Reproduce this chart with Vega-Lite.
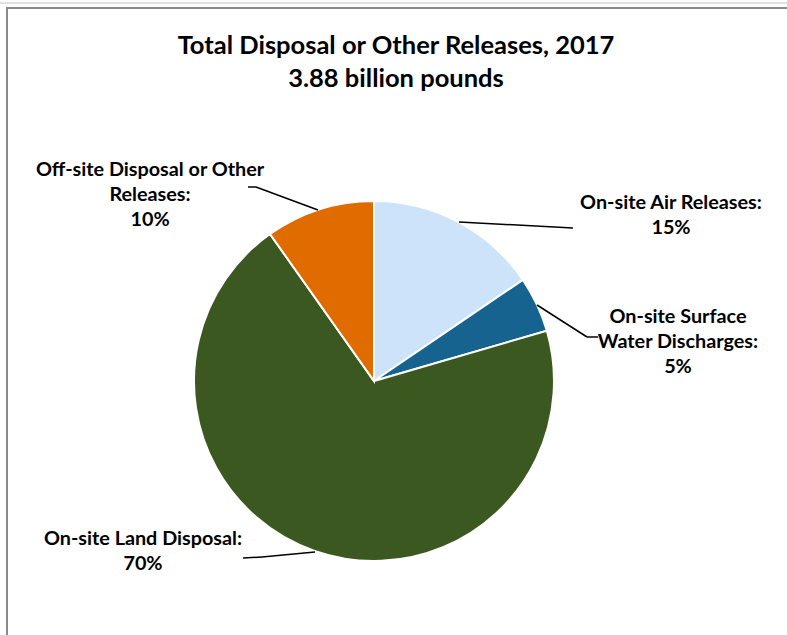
{
  "$schema": "https://vega.github.io/schema/vega-lite/v6.json",
  "width": 782,
  "height": 680,
  "autosize": {"type": "none"},
  "padding": {"left": 7, "top": 8, "right": 0, "bottom": 0},
  "background": "white",
  "title": {
    "text": ["Total Disposal or Other Releases, 2017", "3.88 billion pounds"],
    "font": "Lato",
    "fontSize": 25.5,
    "fontWeight": "bold",
    "color": "#000000",
    "lineHeight": 33,
    "anchor": "middle",
    "frame": "group",
    "baseline": "top",
    "offset": -90,
    "dx": -2
  },
  "config": {
    "view": {"stroke": "#8a8a8a", "strokeWidth": 2},
    "text": {"font": "Lato", "fontSize": 19.8, "fontWeight": "bold", "color": "#000000", "lineBreak": "\n", "lineHeight": 25, "align": "center", "baseline": "middle"}
  },
  "data": {
    "values": [
      {"category": "On-site Air Releases", "value": 15.5, "order": 1, "label": "On-site Air Releases:\n15%"},
      {"category": "On-site Surface Water Discharges", "value": 5.0, "order": 2, "label": "On-site Surface\nWater Discharges:\n5%"},
      {"category": "On-site Land Disposal", "value": 69.7, "order": 3, "label": "On-site Land Disposal:\n70%"},
      {"category": "Off-site Disposal or Other Releases", "value": 9.8, "order": 4, "label": "Off-site Disposal or Other\nReleases:\n10%"}
    ]
  },
  "layer": [
    {
      "mark": {"type": "arc", "outerRadius": 180, "stroke": "#ffffff", "strokeWidth": 2},
      "encoding": {
        "theta": {"field": "value", "type": "quantitative", "stack": true},
        "order": {"field": "order", "type": "quantitative"},
        "color": {
          "field": "category",
          "type": "nominal",
          "legend": null,
          "scale": {
            "domain": ["On-site Air Releases", "On-site Surface Water Discharges", "On-site Land Disposal", "Off-site Disposal or Other Releases"],
            "range": ["#cce3fa", "#17638f", "#3a5820", "#e06c00"]
          }
        },
        "x": {"datum": 0, "type": "quantitative", "axis": null, "scale": {"domain": [-2.0389, 2.3056], "nice": false, "zero": false}},
        "y": {"datum": 0, "type": "quantitative", "axis": null, "scale": {"domain": [-1.7056, 2.0722], "nice": false, "zero": false}}
      }
    },
    {
      "transform": [{"filter": "datum.order == 1"}],
      "mark": {"type": "text"},
      "encoding": {
        "text": {"field": "label"},
        "x": {"datum": 1.65, "type": "quantitative", "axis": null},
        "y": {"datum": 0.9889, "type": "quantitative", "axis": null}
      }
    },
    {
      "transform": [{"filter": "datum.order == 2"}],
      "mark": {"type": "text"},
      "encoding": {
        "text": {"field": "label"},
        "x": {"datum": 1.6889, "type": "quantitative", "axis": null},
        "y": {"datum": 0.3556, "type": "quantitative", "axis": null}
      }
    },
    {
      "transform": [{"filter": "datum.order == 3"}],
      "mark": {"type": "text"},
      "encoding": {
        "text": {"field": "label"},
        "x": {"datum": -1.2833, "type": "quantitative", "axis": null},
        "y": {"datum": -0.8778, "type": "quantitative", "axis": null}
      }
    },
    {
      "transform": [{"filter": "datum.order == 4"}],
      "mark": {"type": "text"},
      "encoding": {
        "text": {"field": "label"},
        "x": {"datum": -1.2444, "type": "quantitative", "axis": null},
        "y": {"datum": 1.1722, "type": "quantitative", "axis": null}
      }
    },
    {
      "data": {"values": [{"seg": "air"}]},
      "mark": {"type": "rule", "color": "#000000", "strokeWidth": 1.5},
      "encoding": {
        "x": {"datum": 0.4722, "type": "quantitative", "axis": null},
        "y": {"datum": 0.8833, "type": "quantitative", "axis": null},
        "x2": {"datum": 1.1056},
        "y2": {"datum": 0.85}
      }
    },
    {
      "data": {"values": [{"seg": "water1"}]},
      "mark": {"type": "rule", "color": "#000000", "strokeWidth": 1.5},
      "encoding": {
        "x": {"datum": 0.9056, "type": "quantitative", "axis": null},
        "y": {"datum": 0.4222, "type": "quantitative", "axis": null},
        "x2": {"datum": 1.1833},
        "y2": {"datum": 0.2444}
      }
    },
    {
      "data": {"values": [{"seg": "water2"}]},
      "mark": {"type": "rule", "color": "#000000", "strokeWidth": 1.5},
      "encoding": {
        "x": {"datum": 1.1833, "type": "quantitative", "axis": null},
        "y": {"datum": 0.2444, "type": "quantitative", "axis": null},
        "x2": {"datum": 1.2444},
        "y2": {"datum": 0.2444}
      }
    },
    {
      "data": {"values": [{"seg": "off1"}]},
      "mark": {"type": "rule", "color": "#000000", "strokeWidth": 1.5},
      "encoding": {
        "x": {"datum": -0.7, "type": "quantitative", "axis": null},
        "y": {"datum": 1.0778, "type": "quantitative", "axis": null},
        "x2": {"datum": -0.6556},
        "y2": {"datum": 1.0778}
      }
    },
    {
      "data": {"values": [{"seg": "off2"}]},
      "mark": {"type": "rule", "color": "#000000", "strokeWidth": 1.5},
      "encoding": {
        "x": {"datum": -0.6556, "type": "quantitative", "axis": null},
        "y": {"datum": 1.0778, "type": "quantitative", "axis": null},
        "x2": {"datum": -0.3111},
        "y2": {"datum": 0.95}
      }
    },
    {
      "data": {"values": [{"seg": "land1"}]},
      "mark": {"type": "rule", "color": "#000000", "strokeWidth": 1.5},
      "encoding": {
        "x": {"datum": -0.7278, "type": "quantitative", "axis": null},
        "y": {"datum": -0.9833, "type": "quantitative", "axis": null},
        "x2": {"datum": -0.6222},
        "y2": {"datum": -0.9778}
      }
    },
    {
      "data": {"values": [{"seg": "land2"}]},
      "mark": {"type": "rule", "color": "#000000", "strokeWidth": 1.5},
      "encoding": {
        "x": {"datum": -0.6222, "type": "quantitative", "axis": null},
        "y": {"datum": -0.9778, "type": "quantitative", "axis": null},
        "x2": {"datum": -0.3278},
        "y2": {"datum": -0.95}
      }
    },
    {
      "data": {"values": [{"seg": "frame"}]},
      "mark": {"type": "rule", "color": "#c4c4c4", "strokeWidth": 1},
      "encoding": {
        "x": {"datum": -2.0778, "type": "quantitative", "axis": null},
        "y": {"datum": 2.1, "type": "quantitative", "axis": null},
        "x2": {"datum": 2.3},
        "y2": {"datum": 2.1}
      }
    }
  ]
}
